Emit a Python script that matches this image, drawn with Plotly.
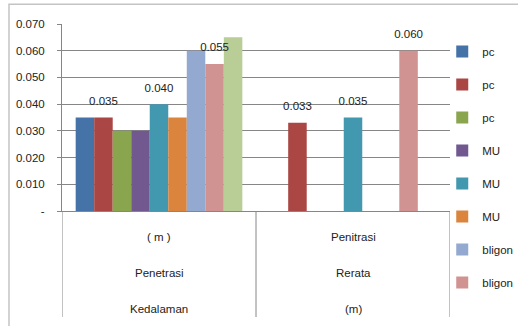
import plotly.graph_objects as go

# ---- data ----
categories = [0, 1]
cat_label_lines = [["( m )", "Penetrasi", "Kedalaman"],
                   ["Penitrasi", "Rerata", "(m)"]]
series_names = ["pc", "pc", "pc", "MU", "MU", "MU", "bligon", "bligon", "bligon"]
pc1 = [0.035, None]
pc2 = [0.035, 0.033]
pc3 = [0.030, None]
mu1 = [0.030, None]
mu2 = [0.040, 0.035]
mu3 = [0.035, None]
bl1 = [0.060, None]
bl2 = [0.055, 0.060]
bl3 = [0.065, None]
series_values = [pc1, pc2, pc3, mu1, mu2, mu3, bl1, bl2, bl3]
labeled = [False, True, False, False, True, False, False, True, False]
in_legend = [True, True, True, True, True, True, True, True, False]
colors = ["#4572A7", "#AA4643", "#89A54E", "#71588F", "#4198AF",
          "#DB843D", "#93A9CF", "#D19392", "#B9CD96"]
ytick_vals = [0, 0.01, 0.02, 0.03, 0.04, 0.05, 0.06, 0.07]
ytick_text = ["-", "0.010", "0.020", "0.030", "0.040", "0.050", "0.060", "0.070"]

FONT = "Liberation Sans, Arial, sans-serif"
FS = 11.5
TXT = "#222222"

fig = go.Figure()
for i, (nm, vals) in enumerate(zip(series_names, series_values)):
    fig.add_trace(go.Bar(
        x=categories, y=vals, name=nm, offsetgroup="g%d" % i,
        marker=dict(color=colors[i], line=dict(width=0)),
        legendgroup="g%d" % i, showlegend=in_legend[i], hoverinfo="x+y",
    ))
# data labels drawn on top of all bars, aligned to the same slots
for i, vals in enumerate(series_values):
    if not labeled[i]:
        continue
    fig.add_trace(go.Scatter(
        x=categories, y=vals, offsetgroup="g%d" % i, mode="markers+text",
        marker=dict(size=14, color="rgba(0,0,0,0)"),
        text=[("%.3f" % v) if v is not None else "" for v in vals],
        textposition="top center", cliponaxis=False,
        textfont=dict(size=FS, color=TXT, family=FONT),
        showlegend=False, hoverinfo="skip",
    ))

# category labels and separators
ann = []
line_y = [-0.141, -0.333, -0.526]
for c, lines in zip(categories, cat_label_lines):
    for ly, t in zip(line_y, lines):
        ann.append(dict(x=c, y=ly, xref="x", yref="paper", text=t, showarrow=False,
                        yanchor="middle", font=dict(size=FS, color=TXT, family=FONT)))
shapes = []
for xv in [-0.5, 0.5, 1.5]:
    shapes.append(dict(type="line", xref="x", yref="paper", x0=xv, x1=xv, y0=0, y1=-0.567,
                       line=dict(color="#868686", width=1)))
# outer chart border
shapes.append(dict(type="rect", xref="paper", yref="paper", x0=-0.1366, x1=1.2, y0=-0.7, y1=1.105,
                   line=dict(color="#c4c4c4", width=1.5), layer="below"))

fig.update_layout(
    width=518, height=326,
    margin=dict(l=62, r=68, t=24, b=115, autoexpand=False),
    paper_bgcolor="white", plot_bgcolor="white",
    barmode="group", bargap=0.141, bargroupgap=0,
    scattermode="group", scattergap=0.141,
    font=dict(family=FONT, size=FS, color=TXT),
    showlegend=True,
    legend=dict(x=0.98, xanchor="left", y=0.93, yanchor="top",
                traceorder="grouped", tracegroupgap=14, maxheight=500,
                font=dict(size=FS, family=FONT, color=TXT),
                bgcolor="rgba(0,0,0,0)", borderwidth=0),
    annotations=ann, shapes=shapes,
)
fig.update_xaxes(range=[-0.5, 1.5], showticklabels=False, showgrid=False,
                 showline=True, linecolor="#868686", linewidth=1, ticks="", zeroline=False,
                 fixedrange=True)
fig.update_yaxes(range=[0, 0.07], tickvals=ytick_vals, ticktext=ytick_text,
                 showgrid=True, gridcolor="#868686", gridwidth=1,
                 showline=True, linecolor="#868686", linewidth=1,
                 ticks="outside", ticklen=4, tickcolor="#868686",
                 ticklabelstandoff=10, zeroline=False,
                 tickfont=dict(size=FS, family=FONT, color=TXT))

fig.write_html("out.html")
